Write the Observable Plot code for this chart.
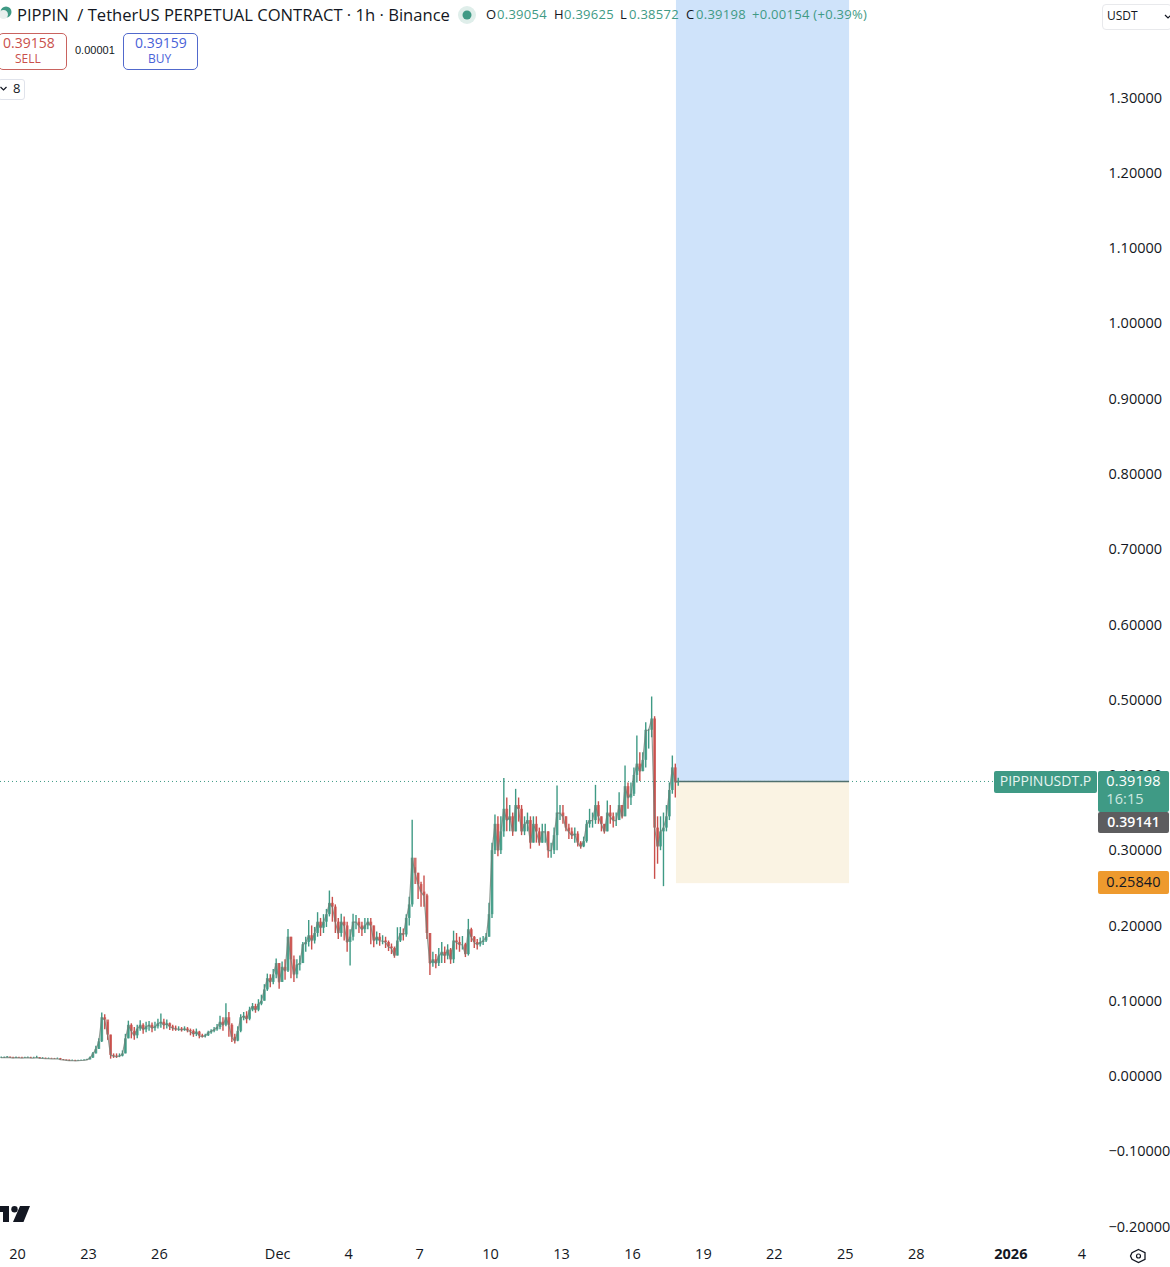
<!DOCTYPE html>
<html><head><meta charset="utf-8">
<script src="https://cdn.jsdelivr.net/npm/d3@7"></script>
<script src="https://cdn.jsdelivr.net/npm/@observablehq/plot@0.6"></script>
<style>
html,body{margin:0;padding:0;background:#fff;overflow:hidden}
#wrap{position:relative;width:1170px;height:1267px;font-family:"Open Sans",sans-serif;color:#131722;overflow:hidden}
#wrap svg{display:block}
.a{position:absolute;white-space:nowrap;line-height:1}
.pill{position:absolute;border-radius:2px;text-align:center;font-size:14.5px;letter-spacing:.1px}
.o{font-size:13px;letter-spacing:.28px;top:8px}
.up{color:#3f9a85}
</style></head><body>
<div id="wrap"></div>
<script>
const closePrice=[
.025,.025,.0255,.025,.0245,.025,.0248,.0245,.0248,.025,
.0245,.0245,.025,.024,.024,.0238,.0238,.0235,.0233,.0235,
.0225,.022,.0215,.021,.0212,.0208,.021,.0212,.0215,.022,
.0245,.03,.036,.046,.078,.075,.055,.028,.027,.0265,
.027,.03,.05,.068,.06,.054,.063,.068,.062,.066,
.068,.064,.066,.07,.072,.068,.07,.066,.064,.063,
.063,.062,.063,.061,.06,.056,.059,.054,.053,.054,
.058,.06,.062,.065,.072,.068,.078,.068,.052,.047,
.06,.078,.08,.076,.088,.093,.088,.096,.1,.115,
.13,.125,.135,.15,.125,.145,.14,.185,.155,.135,
.148,.15,.175,.178,.187,.18,.19,.205,.197,.205,
.215,.23,.225,.205,.19,.205,.2,.178,.185,.205,
.205,.2,.195,.2,.205,.2,.18,.185,.18,.18,
.178,.172,.17,.16,.18,.19,.188,.21,.228,.29,
.27,.255,.245,.24,.19,.15,.155,.15,.16,.165,
.16,.168,.155,.18,.178,.175,.175,.162,.195,.185,
.178,.175,.178,.18,.185,.215,.30,.335,.30,.325,
.355,.34,.345,.325,.36,.355,.325,.335,.34,.31,
.335,.325,.31,.325,.325,.30,.30,.32,.35,.35,
.345,.33,.325,.32,.322,.31,.305,.312,.335,.34,
.34,.36,.345,.335,.325,.35,.345,.34,.34,.36,
.345,.385,.37,.375,.40,.415,.405,.42,.46,.46,
.475,.33,.305,.325,.33,.345,.38,.41,.39054,.39198];
const highPrice=[
.026,.026,.0265,.026,.0255,.026,.0255,.0255,.0255,.026,
.0255,.0255,.027,.025,.025,.0245,.0245,.0242,.024,.0245,
.024,.0225,.022,.0218,.022,.0215,.0215,.022,.0222,.023,
.026,.032,.04,.05,.0843,.082,.072,.055,.03,.03,
.03,.034,.056,.0735,.07,.065,.068,.074,.07,.072,
.073,.071,.072,.076,.083,.076,.075,.071,.068,.067,
.066,.065,.066,.065,.063,.062,.063,.06,.056,.056,
.06,.062,.065,.069,.08,.078,.0967,.085,.07,.056,
.066,.082,.085,.086,.092,.097,.096,.102,.108,.122,
.136,.135,.142,.156,.15,.152,.155,.1954,.185,.16,
.155,.16,.178,.185,.2074,.2,.198,.2176,.21,.215,
.222,.2464,.238,.228,.21,.2154,.212,.205,.195,.2154,
.214,.21,.205,.21,.21,.21,.2,.192,.19,.187,
.185,.18,.176,.172,.1976,.198,.196,.215,.238,.3403,
.2774,.27,.258,.2663,.242,.19,.165,.162,.17,.178,
.172,.175,.17,.193,.19,.185,.186,.177,.2087,.197,
.186,.182,.184,.186,.19,.23,.31,.3474,.345,.345,
.396,.37,.36,.35,.3815,.37,.36,.345,.35,.345,
.345,.345,.33,.335,.335,.325,.31,.33,.386,.36,
.36,.345,.335,.33,.33,.325,.312,.318,.34,.355,
.35,.3868,.365,.345,.335,.366,.36,.35,.35,.3771,
.36,.4125,.39,.39,.41,.4524,.43,.43,.47,.4613,
.5042,.478,.345,.345,.35,.36,.39,.4258,.415,.39625];
const lowPrice=[
.024,.024,.0245,.024,.024,.024,.024,.024,.024,.0242,
.024,.0238,.024,.0235,.0232,.023,.023,.023,.0228,.0228,
.0215,.021,.0205,.02,.0205,.02,.0203,.0205,.021,.0212,
.022,.024,.03,.036,.045,.062,.048,.023,.024,.024,
.025,.026,.03,.05,.05,.048,.05,.06,.056,.058,
.06,.058,.06,.063,.064,.062,.063,.061,.06,.06,
.06,.059,.06,.058,.054,.052,.053,.05,.051,.051,
.053,.056,.058,.06,.062,.06,.066,.052,.045,.043,
.046,.058,.074,.07,.074,.086,.084,.086,.094,.1,
.113,.118,.122,.13,.116,.125,.128,.138,.13,.125,
.13,.14,.15,.165,.172,.168,.176,.185,.186,.19,
.198,.212,.205,.19,.182,.185,.18,.165,.1467,.18,
.195,.19,.186,.19,.195,.175,.171,.175,.173,.175,
.17,.166,.162,.157,.16,.178,.18,.185,.2,.225,
.255,.235,.225,.225,.182,.1343,.145,.143,.146,.15,
.15,.155,.149,.15,.168,.165,.168,.158,.16,.178,
.17,.168,.172,.174,.178,.185,.21,.295,.292,.295,
.318,.325,.325,.319,.325,.338,.32,.32,.325,.302,
.31,.31,.306,.31,.31,.29,.29,.295,.30,.34,
.335,.325,.315,.315,.31,.305,.302,.304,.31,.33,
.33,.335,.335,.325,.322,.325,.335,.33,.332,.34,
.342,.345,.355,.36,.372,.39,.392,.405,.41,.435,
.45,.2619,.282,.30,.2522,.325,.34,.375,.37,.38572];
const openingPrice=.0248;
const firstCandle=Date.UTC(2025,10,19,7,30);
const candleMs=3*3600e3;
const priceTicks=[-0.2,-0.1,0,0.1,0.2,0.3,0.4,0.5,0.6,0.7,0.8,0.9,1,1.1,1.2,1.3];
const dateTicks=[[2025,10,20,"20"],[2025,10,23,"23"],[2025,10,26,"26"],[2025,11,1,"Dec"],[2025,11,4,"4"],[2025,11,7,"7"],[2025,11,10,"10"],[2025,11,13,"13"],[2025,11,16,"16"],[2025,11,19,"19"],[2025,11,22,"22"],[2025,11,25,"25"],[2025,11,28,"28"],[2026,0,4,"4"]];
const yearTick=[[2026,0,1,"2026"]];
const lastPrice=.39198, stopEdge=.2562, positionTop=1.4296;
const positionStart=Date.UTC(2025,11,17,20,40), positionEnd=Date.UTC(2025,11,25,4,20);

const candles=closePrice.map((c,i)=>({
  t:new Date(firstCandle+i*candleMs),
  o:i?closePrice[i-1]:openingPrice,c,h:highPrice[i],l:lowPrice[i]}));
const toDate=a=>new Date(Date.UTC(a[0],a[1],a[2]));
const fmtLabel=list=>d=>list.find(a=>+toDate(a)==+d)[3];
const UP="#3f9a85",DOWN="#c9504c";
const tc=d=>d.c>=d.o?UP:DOWN;
const axisFont={fontFamily:"'Open Sans',sans-serif",fontSize:14.5,fill:"#131722"};

const chart=Plot.plot({
  width:1170,height:1267,margin:0,
  style:{background:"#fff",overflow:"visible"},
  x:{type:"time",domain:[new Date(Date.UTC(2025,10,19,6,45)),new Date(Date.UTC(2026,0,7,18))],range:[0,1170],axis:null},
  y:{domain:[-0.2538,1.4296],range:[1267,0],axis:null},
  marks:[
    Plot.rectY([{a:new Date(positionStart),b:new Date(positionEnd)}],{x1:"a",x2:"b",y1:lastPrice,y2:positionTop,fill:"#cfe3fa"}),
    Plot.rectY([{a:new Date(positionStart),b:new Date(positionEnd)}],{x1:"a",x2:"b",y1:stopEdge,y2:lastPrice,fill:"#faf3e3"}),
    Plot.ruleY([lastPrice],{stroke:"#3f9a85",strokeDasharray:"1,3",strokeWidth:1}),
    Plot.ruleY([lastPrice],{x1:new Date(positionStart),x2:new Date(positionEnd),stroke:"#4f6f6e",strokeWidth:1.5}),
    Plot.ruleX(candles,{x:"t",y1:"l",y2:"h",stroke:tc,strokeWidth:1.4}),
    Plot.ruleX(candles,{x:"t",y1:"o",y2:"c",stroke:tc,strokeWidth:2.8,strokeOpacity:.8}),
    Plot.line(candles,{x:"t",y:"c",stroke:"#6f7d74",strokeWidth:1.2,strokeOpacity:.75,curve:"linear"}),
    Plot.axisY(priceTicks,{anchor:"left",tickSize:0,tickPadding:0,textAnchor:"start",dx:1108,label:null,
      tickFormat:d=>(d<0?"\u2212":"")+Math.abs(d).toFixed(5),...axisFont}),
    Plot.axisX(dateTicks.map(toDate),{anchor:"bottom",tickSize:0,tickPadding:0,lineAnchor:"middle",dy:-13,label:null,
      tickFormat:fmtLabel(dateTicks),...axisFont}),
    Plot.axisX(yearTick.map(toDate),{anchor:"bottom",tickSize:0,tickPadding:0,lineAnchor:"middle",dy:-13,label:null,fontWeight:700,
      tickFormat:fmtLabel(yearTick),...axisFont})
  ]
});
const wrap=document.getElementById("wrap");
wrap.appendChild(chart);
const overlay=document.createElement("div");
overlay.innerHTML=`
<svg style="position:absolute;left:0;top:0" width="1170" height="1267" viewBox="0 0 1170 1267" fill="none">
  <circle cx="6" cy="12" r="5.5" fill="#3f9a85"/><circle cx="3.5" cy="14.5" r="4.5" fill="#e8f0ee"/>
  <circle cx="467" cy="15" r="9" fill="#dfeeea"/><circle cx="467" cy="15" r="4.5" fill="#3f9a85"/>
  <path d="M0 1206H9V1222H3V1212H0Z M20 1206H30L23.5 1222H13Z" fill="#131722"/><circle cx="14.5" cy="1209.3" r="3.2" fill="#131722"/>
  <path d="M1138.5 1249.5l6.5 3.2v6.6l-6.5 3.2-6.5-3.2 0 0-1.5-3.3 1.5-3.3z" stroke="#131722" stroke-width="1.3"/><circle cx="1138.5" cy="1256" r="2" stroke="#131722" stroke-width="1.2"/>
  <path d="M1165 15l3 3 3-3" stroke="#131722" stroke-width="1.2"/>
  <path d="M0.5 87l3 3 3-3" stroke="#131722" stroke-width="1.2"/>
</svg>
<div class="a" style="left:17px;top:7px;font-size:16.6px;color:#131722">PIPPIN&nbsp;&nbsp;/ TetherUS PERPETUAL CONTRACT · 1h · Binance</div>
<div class="a o" style="left:486px">O</div><div class="a o up" style="left:497px">0.39054</div>
<div class="a o" style="left:554px">H</div><div class="a o up" style="left:564px">0.39625</div>
<div class="a o" style="left:620px">L</div><div class="a o up" style="left:629px">0.38572</div>
<div class="a o" style="left:686px">C</div><div class="a o up" style="left:696px">0.39198</div>
<div class="a o up" style="left:752px">+0.00154 (+0.39%)</div>
<div class="a" style="left:1102px;top:4px;width:70px;height:26px;border:1px solid #e8e9ec;border-radius:4px;box-sizing:border-box"></div>
<div class="a" style="left:1107px;top:10px;font-size:12px">USDT</div>
<div class="a" style="left:-2px;top:33px;width:69px;height:37px;border:1px solid #c9635f;border-radius:5px;box-sizing:border-box"></div>
<div class="a" style="left:3px;top:36px;font-size:14px;font-weight:500;color:#c9504c">0.39158</div>
<div class="a" style="left:15px;top:53px;font-size:12px;color:#c9504c">SELL</div>
<div class="a" style="left:75px;top:45px;font-family:'Liberation Sans';font-size:11px">0.00001</div>
<div class="a" style="left:123px;top:33px;width:75px;height:37px;border:1px solid #5169cc;border-radius:5px;box-sizing:border-box"></div>
<div class="a" style="left:135px;top:36px;font-size:14px;font-weight:500;color:#4a62d8">0.39159</div>
<div class="a" style="left:148px;top:53px;font-size:12px;color:#4a62d8">BUY</div>
<div class="a" style="left:-2px;top:79px;width:27px;height:21px;border:1px solid #e0e3eb;border-radius:3px;box-sizing:border-box"></div>
<div class="a" style="left:13px;top:82px;font-size:13px">8</div>
<div class="pill" style="left:994px;top:771px;width:103px;height:22px;line-height:20px;font-size:14px;background:#3f9a85;color:#e8f5f1;letter-spacing:0">PIPPINUSDT.P</div>
<div class="pill" style="left:1098px;top:771px;width:71px;height:41px;background:#3f9a85;color:#fff;line-height:18px;padding-top:1px;box-sizing:border-box">0.39198<br><span style="color:#cfe8e1;margin-right:17px">16:15</span></div>
<div class="pill" style="left:1098px;top:812px;width:71px;height:21px;line-height:20px;background:#5d5d5f;color:#fff;font-weight:600;font-size:14px">0.39141</div>
<div class="pill" style="left:1098px;top:871px;width:71px;height:23px;line-height:22px;background:#ee9a2e;color:#131722">0.25840</div>`;
wrap.appendChild(overlay);
</script></body></html>
